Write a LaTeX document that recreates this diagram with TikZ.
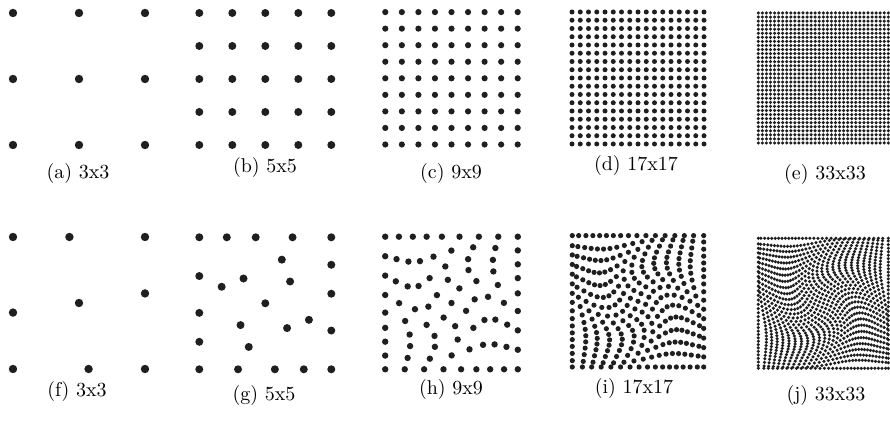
\documentclass[tikz,border=0pt]{standalone}
\usepackage{tikz}

\begin{document}
\begin{tikzpicture}[x=0.5pt, y=-0.5pt,
    dot/.style={fill=black!88},
    caption/.style={inner sep=0pt, font=\normalsize}]
  \useasboundingbox (0,0) rectangle (890,426);
  % regular sampling grids
  \foreach \cx/\cy/\hw/\nn/\rad in {79/79/66/3/4.2, 265.3/79/66/5/4.0,
      451.5/78.3/66.2/9/3.1, 638/78/66/17/2.5, 823.3/78/65/33/1.75} {%
    \pgfmathtruncatemacro{\mm}{\nn-1}
    \foreach \i in {0,...,\mm} {
      \foreach \j in {0,...,\mm} {
        \fill[dot] ({\cx-\hw+2*\hw*\i/\mm},{\cy-\hw+2*\hw*\j/\mm}) circle[radius=\rad*0.5pt];
      }
    }
  }
  % swirled grids, border points stay on their edge
  \foreach \cx/\cy/\hw/\nn/\rad in {79/303/66/3/4.2, 265.3/303.3/66/5/4.0,
      451.5/303/66.3/9/3.2, 638/301.3/65.7/17/2.6, 823.3/303.3/65/33/1.75} {%
    \pgfmathtruncatemacro{\mm}{\nn-1}
    \foreach \i in {0,...,\mm} {
      \foreach \j in {0,...,\mm} {
        \pgfmathsetmacro{\uu}{-1+2*\i/\mm}
        \pgfmathsetmacro{\vv}{-1+2*\j/\mm}
        \pgfmathsetmacro{\ang}{70.4*exp(-((\uu)*(\uu)+(\vv)*(\vv))/0.469)}
        \pgfmathsetmacro{\px}{ifthenelse(\i==0,-1,ifthenelse(\i==\mm,1,(\uu)*cos(\ang)+(\vv)*sin(\ang)))}
        \pgfmathsetmacro{\py}{ifthenelse(\j==0,-1,ifthenelse(\j==\mm,1,(\vv)*cos(\ang)-(\uu)*sin(\ang)))}
        \fill[dot] ({\cx+\hw*\px},{\cy+\hw*\py}) circle[radius=\rad*0.5pt];
      }
    }
  }
  % captions
  \foreach \x/\y/\lab/\txt in {78/174/a/{(a) 3x3}, 265/168/b/{(b) 5x5},
      451/174/c/{(c) 9x9}, 636/166/d/{(d) 17x17}, 825/175/e/{(e) 33x33},
      77/392/f/{(f) 3x3}, 264/396/g/{(g) 5x5}, 451/390/h/{(h) 9x9},
      634/389/i/{(i) 17x17}, 826/396/j/{(j) 33x33}} {%
    \node[caption] (cap\lab) at (\x,\y) {\txt};
  }
\end{tikzpicture}
\end{document}
